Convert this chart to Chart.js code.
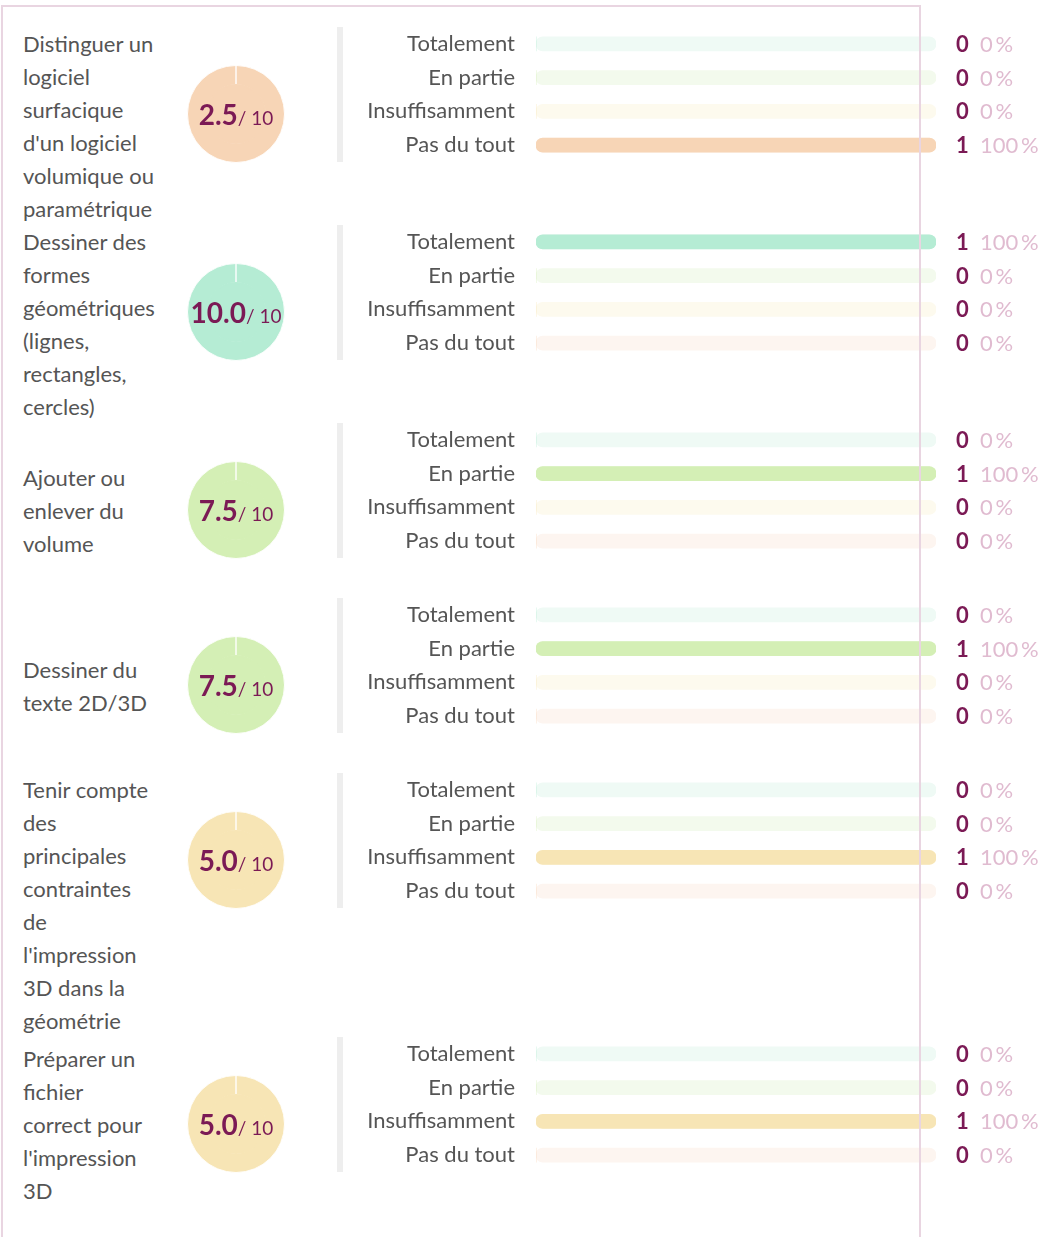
<!DOCTYPE html>
<html>
<head>
<meta charset="utf-8">
<script src="https://cdn.jsdelivr.net/npm/chart.js@4.4.1/dist/chart.umd.min.js"></script>
<style>
  body { margin: 0; background: #fff; font-family: Lato, sans-serif; }
  #wrap { position: relative; width: 1048px; height: 1237px; overflow: hidden; }
  #frame { position: absolute; left: 1px; top: 5px; width: 920px; height: 1300px; box-sizing: border-box;
           border: 2px solid #e9d5e1; pointer-events: none; z-index: 5; }
  #list { position: absolute; left: 0; top: 28px; width: 1048px; }
  .block { position: relative; display: flex; min-height: 175px; }
  .label { position: relative; top: -1px; width: 180px; padding-left: 23px; box-sizing: border-box; display: flex;
           align-items: center; font-size: 22px; line-height: 33px; color: #555; }
  .pie { position: absolute; left: 187px; top: 37px; width: 98px; height: 98px; }
  .sep { position: absolute; left: 337px; top: -1px; width: 6px; height: 135px; background: #eeeeee; }
  .bars { position: absolute; left: 346px; top: -1px; width: 702px; height: 135px; }
</style>
</head>
<body>
<div id="wrap">
  <div id="list"></div>
  <div id="frame"></div>
</div>

<script>
// Compétences évaluées (lignes telles qu'affichées)
const skills = [
  ["Distinguer un", "logiciel", "surfacique", "d'un logiciel", "volumique ou", "paramétrique"],
  ["Dessiner des", "formes", "géométriques", "(lignes,", "rectangles,", "cercles)"],
  ["Ajouter ou", "enlever du", "volume"],
  ["Dessiner du", "texte 2D/3D"],
  ["Tenir compte", "des", "principales", "contraintes", "de", "l'impression", "3D dans la", "géométrie"],
  ["Préparer un", "fichier", "correct pour", "l'impression", "3D"]
];
const scores = [2.5, 10.0, 7.5, 7.5, 5.0, 5.0];
const maxScore = 10;

const answers = ["Totalement", "En partie", "Insuffisamment", "Pas du tout"];
const totalement     = [0, 1, 0, 0, 0, 0];
const enPartie       = [0, 0, 1, 1, 0, 0];
const insuffisamment = [0, 0, 0, 0, 1, 1];
const pasDuTout      = [1, 0, 0, 0, 0, 0];

const answerColors = ['#b5ecd4', '#d4efb5', '#f7e5b5', '#f7d5b6'];
const trackColors  = ['#effaf5', '#f3faed', '#fdfaee', '#fdf5f0'];
const countColor = '#7b1a55';
const pctColor = '#e0bbd0';

const scoreText = {
  id: 'scoreText',
  afterDraw(chart, args, opts) {
    const ctx = chart.ctx;
    const a = chart.getDatasetMeta(0).data[0];
    const big = opts.value.toFixed(1);
    const small = '/ 10';
    ctx.save();
    ctx.font = 'bold 28px Lato';
    const w1 = ctx.measureText(big).width;
    ctx.font = '19px Lato';
    const w2 = ctx.measureText(small).width;
    const x0 = a.x - (w1 + w2) / 2;
    ctx.fillStyle = countColor;
    ctx.textBaseline = 'alphabetic';
    ctx.font = 'bold 28px Lato';
    ctx.fillText(big, x0, a.y + 11);
    ctx.font = '19px Lato';
    ctx.fillText(small, x0 + w1, a.y + 11);
    ctx.restore();
  }
};

const countLabels = {
  id: 'countLabels',
  afterDatasetsDraw(chart, args, opts) {
    const ctx = chart.ctx;
    const meta = chart.getDatasetMeta(0);
    const right = chart.chartArea.right;
    ctx.save();
    ctx.textBaseline = 'middle';
    ctx.textAlign = 'left';
    meta.data.forEach((bar, i) => {
      const v = chart.data.datasets[0].data[i];
      ctx.font = 'bold 22px Lato';
      ctx.fillStyle = countColor;
      ctx.fillText(String(v), right + 20, bar.y + 1);
      ctx.font = '22px Lato';
      ctx.fillStyle = pctColor;
      ctx.fillText(Math.round(v / opts.total * 100) + '\u2009%', right + 44, bar.y + 1);
    });
    ctx.restore();
  }
};

const build = () => {
  const list = document.getElementById('list');

  skills.forEach((lines, i) => {
    const counts = [totalement[i], enPartie[i], insuffisamment[i], pasDuTout[i]];
    const total = counts.reduce((s, c) => s + c, 0);
    const colorIdx = Math.min(3, Math.round((maxScore - scores[i]) / 2.5));
    const col = answerColors[colorIdx];

    const block = document.createElement('div');
    block.className = 'block';
    block.innerHTML = `
      <div class="label"><div>${lines.join('<br>')}</div></div>
      <div class="pie"><canvas></canvas></div>
      <div class="sep"></div>
      <div class="bars"><canvas></canvas></div>
    `;
    list.appendChild(block);

    const [pieCanvas, barCanvas] = block.querySelectorAll('canvas');

    // outer ring carries the thin white seam at 12 o'clock, inner disc covers the rest
    new Chart(pieCanvas, {
      type: 'pie',
      data: {
        datasets: [
          { data: [maxScore], backgroundColor: col, borderColor: 'rgba(255,255,255,0.9)', borderWidth: 1, weight: 2, order: 1 },
          { data: [maxScore], backgroundColor: col, borderColor: col, borderWidth: 2, weight: 3, order: 0 }
        ]
      },
      options: {
        responsive: true,
        maintainAspectRatio: false,
        animation: false,
        events: [],
        plugins: { legend: { display: false }, tooltip: { enabled: false }, scoreText: { value: scores[i] } }
      },
      plugins: [scoreText]
    });

    new Chart(barCanvas, {
      type: 'bar',
      data: {
        labels: answers,
        datasets: [
          {
            data: counts,
            backgroundColor: answerColors,
            order: 0,
            grouped: false,
            barThickness: 14,
            borderRadius: 7,
            borderSkipped: false
          },
          {
            data: answers.map(() => total),
            backgroundColor: trackColors,
            order: 1,
            grouped: false,
            barThickness: 14,
            borderRadius: 7,
            borderSkipped: false
          }
        ]
      },
      options: {
        indexAxis: 'y',
        responsive: true,
        maintainAspectRatio: false,
        animation: false,
        events: [],
        layout: { padding: { left: 0, right: 112, top: 0, bottom: 0 } },
        plugins: { legend: { display: false }, tooltip: { enabled: false }, countLabels: { total: total } },
        scales: {
          x: { display: false, min: 0, max: total },
          y: {
            grid: { display: false, drawTicks: false },
            border: { display: false },
            ticks: { padding: 21, color: '#555', font: { family: 'Lato', size: 22 } },
            afterFit: (s) => { s.width = 190; s.paddingTop = 0; s.paddingBottom = 0; }
          }
        }
      },
      plugins: [countLabels]
    });
  });
};

Promise.all([
  document.fonts.load('20px Lato'),
  document.fonts.load('bold 20px Lato')
]).then(build, build);
</script>
</body>
</html>
